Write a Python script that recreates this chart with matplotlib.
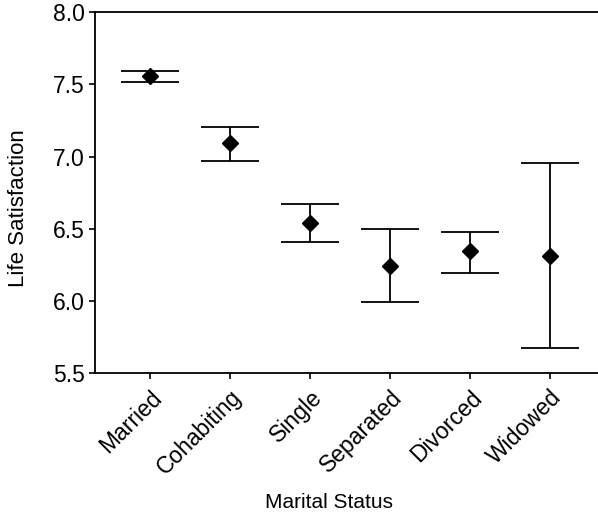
import matplotlib

matplotlib.use("Agg")

import matplotlib.pyplot as plt

plt.rcParams["font.family"] = ["Liberation Sans", "DejaVu Sans"]

# values
statuses = ["Married", "Cohabiting", "Single", "Separated", "Divorced", "Widowed"]
means = [7.555, 7.091, 6.538, 6.244, 6.344, 6.314]
upper = [7.594, 7.206, 6.671, 6.498, 6.480, 6.953]
lower = [7.516, 6.971, 6.408, 5.993, 6.196, 5.673]

fig = plt.figure(figsize=(5.98, 5.18), dpi=100)
ax = fig.add_axes([0.159, 0.279, 0.841, 0.698])

x = list(range(len(statuses)))
err_low = [m - lo for m, lo in zip(means, lower)]
err_high = [hi - m for m, hi in zip(means, upper)]
ax.errorbar(
    x,
    means,
    yerr=[err_low, err_high],
    fmt="D",
    color="black",
    markersize=8,
    elinewidth=1.3,
    capsize=21,
    capthick=1.3,
)

ax.set_xlim(-0.69, 5.6)
ax.set_ylim(5.5, 8.0)
ax.set_yticks([5.5, 6.0, 6.5, 7.0, 7.5, 8.0])
ax.set_yticklabels(["5.5", "6.0", "6.5", "7.0", "7.5", "8.0"])
ax.set_xticks(x)
ax.set_xticklabels(statuses, rotation=45, ha="right", rotation_mode="anchor")
ax.tick_params(axis="both", labelsize=16.5, length=4, width=1.2, color="black")
ax.tick_params(axis="x", pad=5)
for side in ["left", "bottom", "top"]:
    ax.spines[side].set_linewidth(1.3)
ax.spines["right"].set_visible(False)

fig.text(0.031, 0.598, "Life Satisfaction", fontsize=16, rotation=90,
         ha="center", va="center")
fig.text(0.55, 0.03, "Marital Status", fontsize=15, ha="center", va="center")

fig.savefig("out.png", dpi=100)
